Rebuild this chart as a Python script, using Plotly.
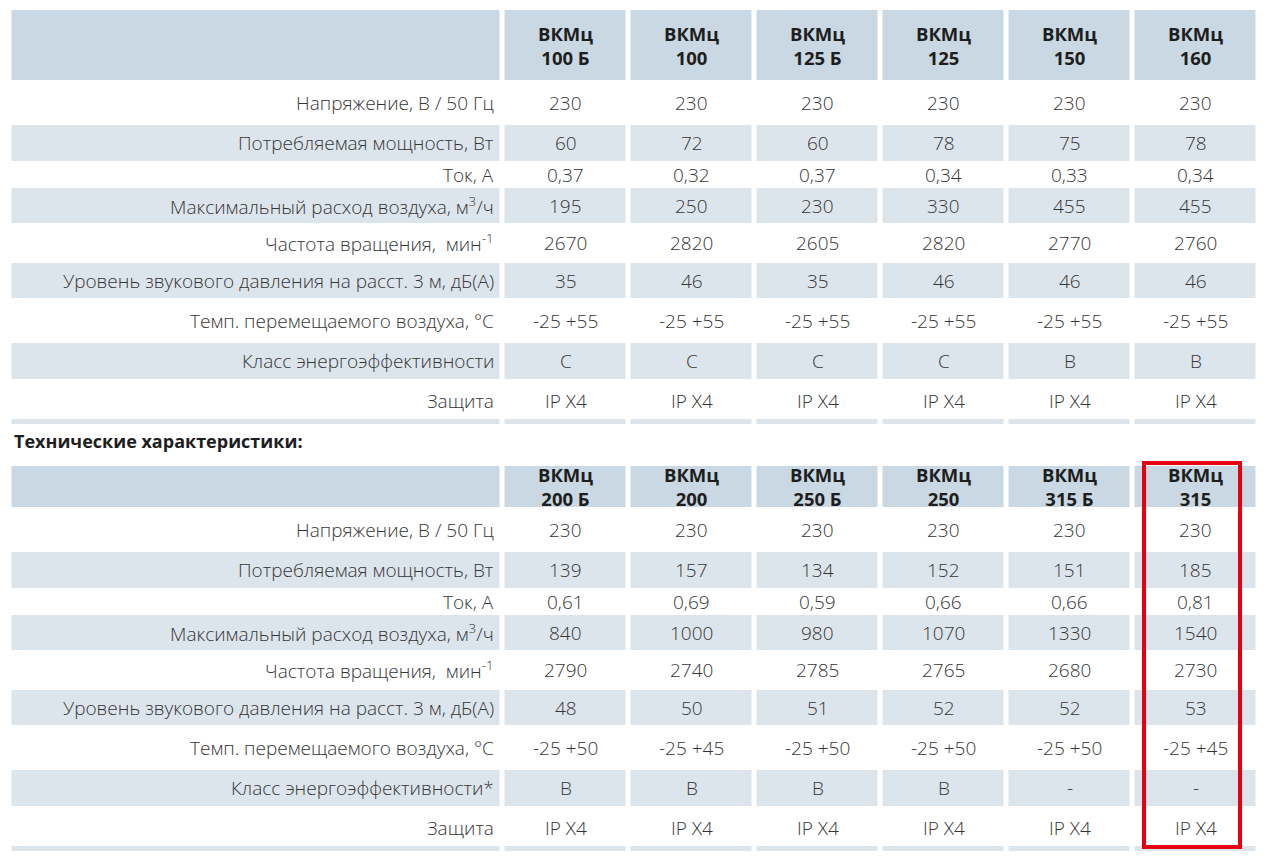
import plotly.graph_objects as go
import numpy as np

# ---------------- data ----------------
prefix = "ВКМц"
models1 = ["100 Б", "100", "125 Б", "125", "150", "160"]
models2 = ["200 Б", "200", "250 Б", "250", "315 Б", "315"]

labels1 = [
    "Напряжение, В / 50 Гц",
    "Потребляемая мощность, Вт",
    "Ток, А",
    "Максимальный расход воздуха, м<sup>3</sup>/ч",
    "Частота вращения,  мин<sup>-1</sup>",
    "Уровень звукового давления на расст. 3 м, дБ(А)",
    "Темп. перемещаемого воздуха, °C",
    "Класс энергоэффективности",
    "Защита",
]
labels2 = [
    "Напряжение, В / 50 Гц",
    "Потребляемая мощность, Вт",
    "Ток, А",
    "Максимальный расход воздуха, м<sup>3</sup>/ч",
    "Частота вращения,  мин<sup>-1</sup>",
    "Уровень звукового давления на расст. 3 м, дБ(А)",
    "Темп. перемещаемого воздуха, °C",
    "Класс энергоэффективности*",
    "Защита",
]

voltage1 = [230, 230, 230, 230, 230, 230]
power1 = [60, 72, 60, 78, 75, 78]
current1 = ["0,37", "0,32", "0,37", "0,34", "0,33", "0,34"]
airflow1 = [195, 250, 230, 330, 455, 455]
speed1 = [2670, 2820, 2605, 2820, 2770, 2760]
noise1 = [35, 46, 35, 46, 46, 46]
temp1 = ["-25 +55", "-25 +55", "-25 +55", "-25 +55", "-25 +55", "-25 +55"]
energy1 = ["C", "C", "C", "C", "B", "B"]
protect1 = ["IP X4", "IP X4", "IP X4", "IP X4", "IP X4", "IP X4"]

voltage2 = [230, 230, 230, 230, 230, 230]
power2 = [139, 157, 134, 152, 151, 185]
current2 = ["0,61", "0,69", "0,59", "0,66", "0,66", "0,81"]
airflow2 = [840, 1000, 980, 1070, 1330, 1540]
speed2 = [2790, 2740, 2785, 2765, 2680, 2730]
noise2 = [48, 50, 51, 52, 52, 53]
temp2 = ["-25 +50", "-25 +45", "-25 +50", "-25 +50", "-25 +50", "-25 +45"]
energy2 = ["B", "B", "B", "B", "-", "-"]
protect2 = ["IP X4", "IP X4", "IP X4", "IP X4", "IP X4", "IP X4"]

section_title = "Технические характеристики:"

rows1 = [voltage1, power1, current1, airflow1, speed1, noise1, temp1, energy1, protect1]
rows2 = [voltage2, power2, current2, airflow2, speed2, noise2, temp2, energy2, protect2]

# ---------------- layout / style ----------------
W, H = 1275, 859
PAGE_MARGIN = 8          # default body margin of the html page
left_edge = 9.5
label_w = 493
col_w = 126
gap = 5
row_heights = [45, 36, 27, 35, 40, 35, 45, 36, 40, 5]   # body rows + closing strip
row_shade = [0, 1, 0, 1, 0, 1, 0, 1, 0, 1]
block_tops = [10, 466]
header_heights = [70, 41]
title_y = 441

HEADER_C = "#c9d8e2"
ROW_C = "#dde5ec"
TEXT_C = "#363636"
BOLD_C = "#1e1e1e"
FONT = "Open Sans"

x_edges = [left_edge, left_edge + label_w] + [left_edge + label_w + col_w * (i + 1) for i in range(6)]
x_centers = [(x_edges[i] + x_edges[i + 1]) / 2 for i in range(len(x_edges) - 1)]

fig = go.Figure()
annotations = []

blocks = [(models1, labels1, rows1), (models2, labels2, rows2)]
for b, (models, labels, rows) in enumerate(blocks):
    top = block_tops[b]
    heights = [header_heights[b]] + row_heights
    y_edges = list(top + np.concatenate([[0], np.cumsum(heights)]))
    shade = [2] + row_shade
    z = [[s] * 7 for s in shade]
    fig.add_trace(go.Heatmap(
        x=x_edges, y=y_edges, z=z, zmin=0, zmax=2,
        colorscale=[[0, "#ffffff"], [0.5, ROW_C], [1, HEADER_C]],
        showscale=False, xgap=gap, ygap=0, hoverinfo="skip",
    ))
    y_centers = [(y_edges[i] + y_edges[i + 1]) / 2 for i in range(len(y_edges) - 1)]
    # header
    for j, m in enumerate(models):
        annotations.append(dict(
            x=x_centers[j + 1], y=y_centers[0], text=f"<b>{prefix}<br>{m}</b>",
            showarrow=False, xanchor="center", yanchor="middle",
            font=dict(family=FONT, size=18.5, color=BOLD_C),
        ))
    # body
    for r, (lab, vals) in enumerate(zip(labels, rows)):
        yc = y_centers[r + 1] + (2 if r == len(labels) - 1 else 0)
        annotations.append(dict(
            x=x_edges[1] - 7, y=yc, text=lab, showarrow=False,
            xanchor="right", yanchor="middle",
            font=dict(family=FONT, size=19, color=TEXT_C, weight=300),
        ))
        for j, v in enumerate(vals):
            annotations.append(dict(
                x=x_centers[j + 1], y=yc, text=str(v), showarrow=False,
                xanchor="center", yanchor="middle",
                font=dict(family=FONT, size=19, color=TEXT_C, weight=300),
            ))

annotations.append(dict(
    x=12, y=title_y, text=f"<b>{section_title}</b>", showarrow=False,
    xanchor="left", yanchor="middle",
    font=dict(family=FONT, size=18, color=BOLD_C),
))

# highlight box around the last model of the second block
hx = x_centers[-1] - 3.5
fig.add_shape(type="rect", xref="x", yref="y",
              x0=hx - 48, x1=hx + 48,
              y0=block_tops[1] - 3, y1=block_tops[1] + header_heights[1] + sum(row_heights) - 4,
              line=dict(color="#e60012", width=4), fillcolor="rgba(0,0,0,0)")

fig.update_layout(
    width=W - PAGE_MARGIN, height=H - PAGE_MARGIN, margin=dict(l=0, r=0, t=0, b=0),
    paper_bgcolor="white", plot_bgcolor="white",
    xaxis=dict(range=[PAGE_MARGIN, W], visible=False, fixedrange=True),
    yaxis=dict(range=[H, PAGE_MARGIN], visible=False, fixedrange=True),
    annotations=annotations, showlegend=False,
)

fig.write_html("out.html")
